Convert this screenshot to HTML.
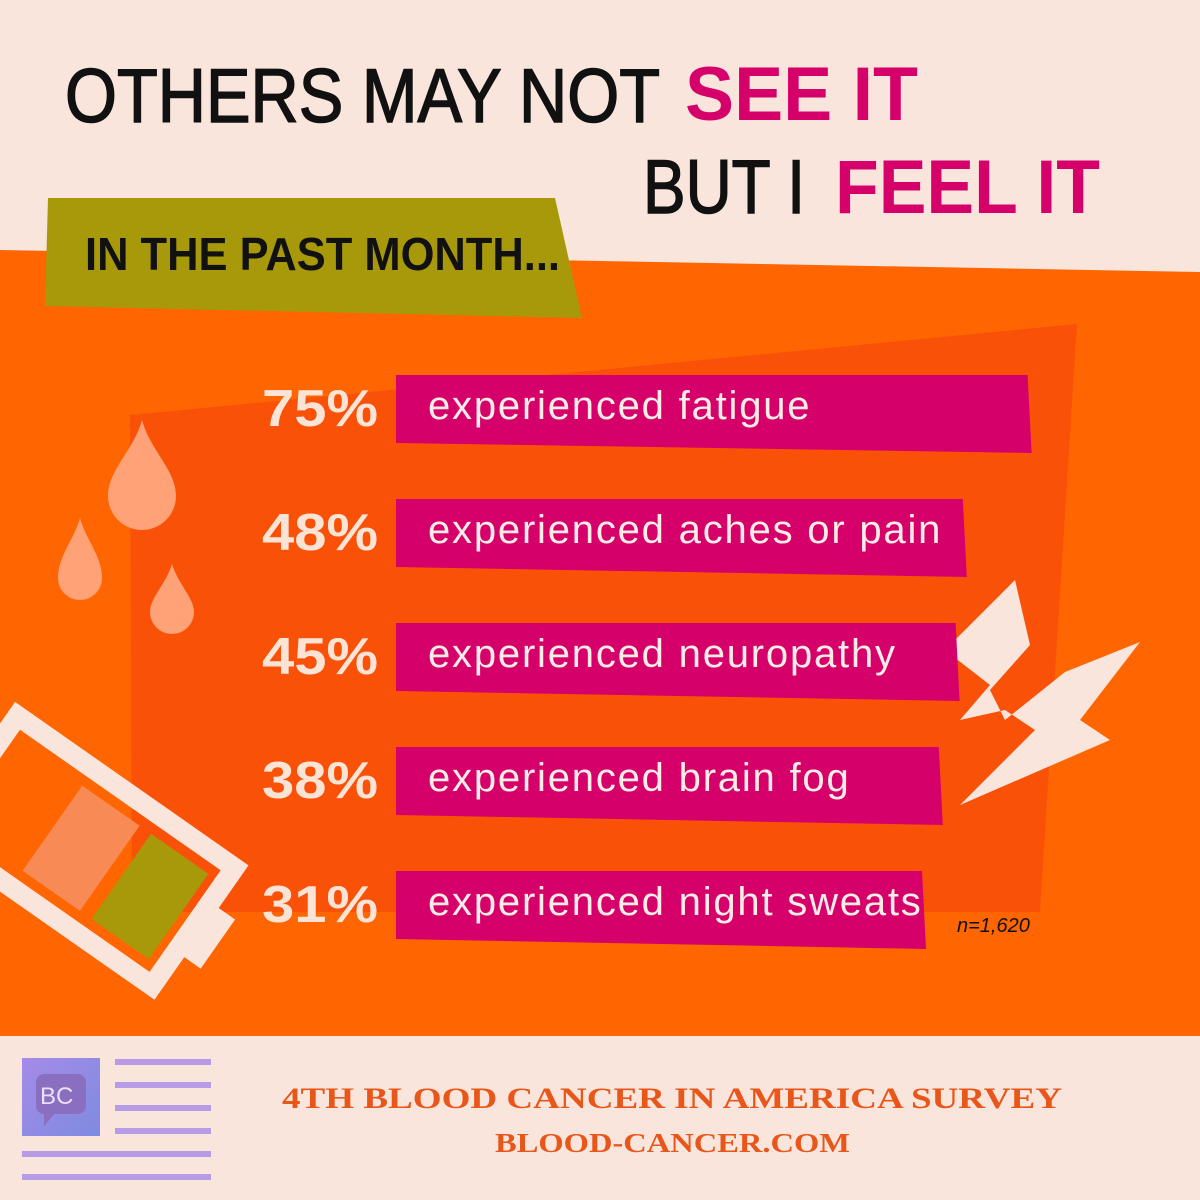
<!DOCTYPE html>
<html><head><meta charset="utf-8"><style>
html,body{margin:0;padding:0;background:#F9E5DB;}
svg{display:block}
</style></head><body>
<svg width="1200" height="1200" viewBox="0 0 1200 1200">
<rect x="0" y="0" width="1200" height="1200" fill="#F9E5DB"/>
<polygon points="0,250 1200,272 1200,1036 0,1036" fill="#FF6500"/>
<polygon points="130,415 1077,324 1040,912 132,912" fill="#F95208"/>
<polygon points="48,198 555,198 582,318 45,306" fill="#A8990A"/>
<text x="85" y="270" font-family="Liberation Sans, sans-serif" font-weight="bold" font-size="46" textLength="475" lengthAdjust="spacingAndGlyphs" fill="#111">IN THE PAST MONTH...</text>
<g font-family="Liberation Sans, sans-serif" font-size="76">
<text x="65" y="122" textLength="595" lengthAdjust="spacingAndGlyphs" fill="#111" stroke="#111" stroke-width="1.5">OTHERS MAY NOT</text>
<text x="685" y="120" font-weight="bold" textLength="233" lengthAdjust="spacingAndGlyphs" fill="#D6006B">SEE IT</text>
<text x="643" y="213" textLength="162" lengthAdjust="spacingAndGlyphs" fill="#111" stroke="#111" stroke-width="1.5">BUT I</text>
<text x="835" y="213" font-weight="bold" textLength="265" lengthAdjust="spacingAndGlyphs" fill="#D6006B">FEEL IT</text>
</g>
<g fill="#FFA277">
<path d="M142,420 C150,450 176,470 176,496 A34,34 0 0 1 108,496 C108,470 134,450 142,420 Z"/>
<path d="M80,518 C86,540 102,556 102,578 A22,22 0 0 1 58,578 C58,556 74,540 80,518 Z"/>
<path d="M172,564 C178,584 194,598 194,612 A22,22 0 0 1 150,612 C150,598 166,584 172,564 Z"/>
</g>
<polygon points="1015,580 1030,645 990,690 1005,720 1065,672 1140,642 1080,720 1110,740 960,805 1035,730 1005,710 960,720 990,685 945,650" fill="#F9E5DB"/>
<g transform="translate(95,858) rotate(35)">
<rect x="-145" y="-72" width="265" height="144" fill="none" stroke="#F9E5DB" stroke-width="20"/>
<rect x="120" y="-30" width="30" height="60" fill="#F9E5DB"/>
<rect x="-125" y="-52" width="55" height="104" fill="#FF6500"/>
<rect x="-52" y="-52" width="70" height="104" fill="#F78A55"/>
<rect x="32" y="-52" width="70" height="104" fill="#A8990A"/>
</g>
<g id="bars"></g>
<text x="957" y="932" font-family="Liberation Sans, sans-serif" font-style="italic" font-size="20" fill="#111">n=1,620</text>
<defs><linearGradient id="lg" x1="0" y1="0" x2="1" y2="1"><stop offset="0" stop-color="#A58BE8"/><stop offset="1" stop-color="#7E8BE0"/></linearGradient></defs>
<g>
<rect x="22" y="1058" width="78" height="78" fill="url(#lg)"/>
<rect x="36" y="1074" width="50" height="40" rx="8" fill="#8A6FC0"/>
<polygon points="44,1112 56,1112 44,1126" fill="#8A6FC0"/>
<text x="40" y="1104" font-family="Liberation Sans, sans-serif" font-size="24" fill="#E9E0F8">BC</text>
<g fill="#B89BE6">
<rect x="115" y="1059" width="96" height="6"/><rect x="115" y="1082" width="96" height="6"/><rect x="115" y="1105" width="96" height="6"/><rect x="115" y="1128" width="96" height="6"/>
<rect x="22" y="1151" width="189" height="6"/><rect x="22" y="1174" width="189" height="6"/>
</g></g>
<text x="282" y="1108" textLength="780" lengthAdjust="spacingAndGlyphs" font-family="Liberation Serif, serif" font-weight="bold" font-size="30" fill="#E8561A">4TH BLOOD CANCER IN AMERICA SURVEY</text>
<text x="495" y="1152" textLength="355" lengthAdjust="spacingAndGlyphs" font-family="Liberation Serif, serif" font-weight="bold" font-size="27" fill="#E8561A">BLOOD-CANCER.COM</text>
</svg>
<script>
const categories=["experienced fatigue","experienced aches or pain","experienced neuropathy","experienced brain fog","experienced night sweats"];
const values=[75,48,45,38,31];
const labels=["75%","48%","45%","38%","31%"];
const NS="http://www.w3.org/2000/svg";
const g=document.getElementById('bars');
const rowY=i=>405+i*124;
const barRight=v=>922+(v-31)*2.4;
categories.forEach((c,i)=>{
  const y=rowY(i),r=barRight(values[i]),l=396;
  const p=document.createElementNS(NS,'polygon');
  p.setAttribute('points',`${l},${y-30} ${r},${y-30} ${r+4},${y+48} ${l},${y+38}`);
  p.setAttribute('fill','#D6006B');
  
  
  g.appendChild(p);
  const t=document.createElementNS(NS,'text');
  t.setAttribute('x',428);t.setAttribute('y',y+14);
  t.setAttribute('font-family','Liberation Sans, sans-serif');t.setAttribute('font-size','40');
  t.setAttribute('letter-spacing','1.8');
  t.setAttribute('fill','#FBEDE6');t.textContent=c;
  
  
  g.appendChild(t);
  const pt=document.createElementNS(NS,'text');
  pt.setAttribute('x',262);pt.setAttribute('y',y+21);
  pt.setAttribute('textLength',116);pt.setAttribute('lengthAdjust','spacingAndGlyphs');
  pt.setAttribute('font-family','Liberation Sans, sans-serif');pt.setAttribute('font-size','52');
  pt.setAttribute('font-weight','bold');
  pt.setAttribute('fill','#FBE3D6');pt.textContent=labels[i];
  
  
  g.appendChild(pt);
});
</script>
</body></html>
